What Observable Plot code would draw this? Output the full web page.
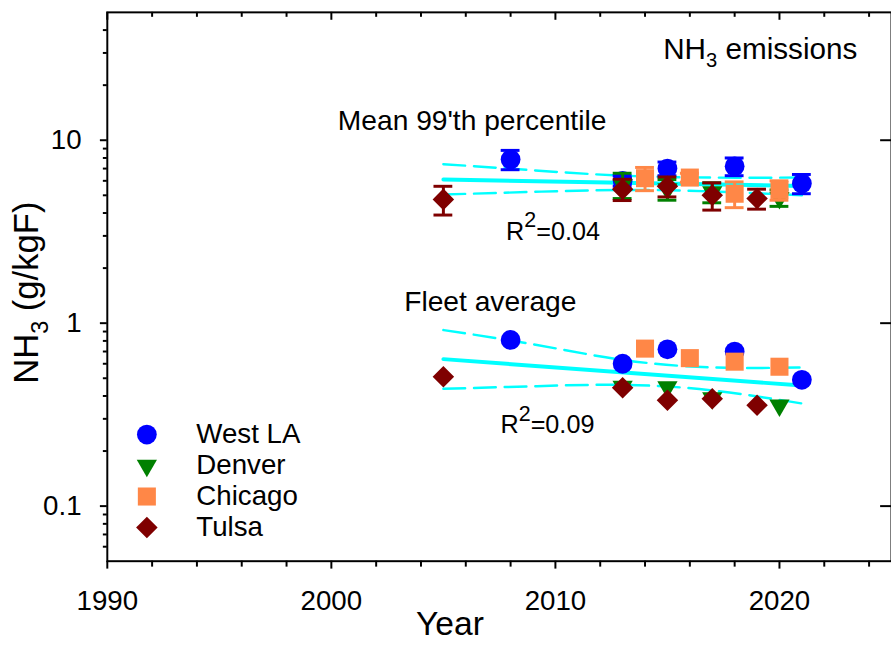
<!DOCTYPE html>
<html>
<head>
<meta charset="utf-8">
<script src="https://cdn.jsdelivr.net/npm/d3@7"></script>
<script src="https://cdn.jsdelivr.net/npm/@observablehq/plot@0.6"></script>
<style>
  html, body { margin: 0; padding: 0; background: white; overflow: hidden; }
  #chart svg { display: block; }
</style>
</head>
<body>
<div id="chart"></div>
<script>
/* Ciudades y colores */
const cities = ["West LA", "Denver", "Chicago", "Tulsa"];
const cityColors = ["#0000ff", "#008000", "#ff8747", "#7f0000"];

/* West LA */
const westLAYears = [2008, 2013, 2015, 2018, 2021];
const westLAFleet = [0.81, 0.60, 0.72, 0.70, 0.49];
const westLAP99 = [7.85, 6.0, 7.0, 7.2, 5.8];
const westLAP99Err = [0.95, 0.4, 0.6, 0.8, 0.7];

/* Denver */
const denverYears = [2013, 2015, 2017, 2020];
const denverFleet = [0.45, 0.447, 0.39, 0.356];
const denverP99 = [5.7, 5.4, 5.2, 4.85];
const denverP99Err = [0.9, 0.7, 0.65, 0.5];

/* Chicago */
const chicagoYears = [2014, 2016, 2018, 2020];
const chicagoFleet = [0.726, 0.644, 0.616, 0.578];
const chicagoP99 = [6.2, 6.25, 5.1, 5.35];
const chicagoP99Err = [0.9, 0.35, 0.82, 0.65];

/* Tulsa */
const tulsaYears = [2005, 2013, 2015, 2017, 2019];
const tulsaFleet = [0.51, 0.443, 0.379, 0.386, 0.356];
const tulsaP99 = [4.75, 5.4, 5.6, 5.0, 4.8];
const tulsaP99Err = [0.85, 0.72, 0.7, 0.85, 0.6];

/* Ajustes lineales y bandas de confianza */
const fitYears = [2005, 2021];
const bandYears = [2005, 2009, 2013, 2017, 2021];
const p99Fit = [6.1, 5.62];
const p99Upper = [7.4, 6.85, 6.4, 6.25, 6.25];
const p99Lower = [5.05, 5.22, 5.35, 5.25, 5.0];
const fleetFit = [0.636, 0.456];
const fleetUpper = [0.917, 0.767, 0.63, 0.573, 0.573];
const fleetLower = [0.438, 0.452, 0.46, 0.429, 0.364];

/* Ticks */
const xMajor = [1990, 2000, 2010, 2020];
const xMinor = [1992, 1994, 1996, 1998, 2002, 2004, 2006, 2008, 2012, 2014, 2016, 2018, 2022, 2024];
const yMajor = [0.1, 1, 10];
const yMinor = [0.06, 0.07, 0.08, 0.09, 0.2, 0.3, 0.4, 0.5, 0.6, 0.7, 0.8, 0.9, 2, 3, 4, 5, 6, 7, 8, 9, 20, 30, 40];

/* Armamos las filas por ciudad */
const cityYears = [westLAYears, denverYears, chicagoYears, tulsaYears];
const cityFleet = [westLAFleet, denverFleet, chicagoFleet, tulsaFleet];
const cityP99 = [westLAP99, denverP99, chicagoP99, tulsaP99];
const cityP99Err = [westLAP99Err, denverP99Err, chicagoP99Err, tulsaP99Err];
const rows = cities.map((city, i) => cityYears[i].map((year, j) => ({
  city, year, fleet: cityFleet[i][j], p99: cityP99[i][j], err: cityP99Err[i][j]
})));

/* Simbolos (triangulo hacia abajo a mano) */
const triangleDown = {
  draw(ctx, size) {
    const y = Math.sqrt(size / (3 * Math.sqrt(3)));
    ctx.moveTo(0, 2 * y);
    ctx.lineTo(-Math.sqrt(3) * y, -y);
    ctx.lineTo(Math.sqrt(3) * y, -y);
    ctx.closePath();
  }
};
const citySymbols = ["circle", triangleDown, "square", "diamond2"];
const cityRadius = [10, 7.6, 10.3, 9.8];

const W = 901, H = 648, mL = 108, mR = 0, mT = 12, mB = 81;
const plotW = W - mL - mR, plotH = H - mT - mB;
const cyan = "#00ffff";

const cityMarks = cities.flatMap((city, i) => {
  const data = rows[i];
  const color = cityColors[i];
  return [
    Plot.ruleX(data, {x: "year", y1: d => d.p99 - d.err, y2: d => d.p99 + d.err, stroke: color, strokeWidth: 3}),
    Plot.ruleY(data, {y: d => d.p99 - d.err, x1: d => d.year - 0.42, x2: d => d.year + 0.42, stroke: color, strokeWidth: 3}),
    Plot.ruleY(data, {y: d => d.p99 + d.err, x1: d => d.year - 0.42, x2: d => d.year + 0.42, stroke: color, strokeWidth: 3}),
    Plot.dot(data, {x: "year", y: "p99", symbol: citySymbols[i], r: cityRadius[i], fill: color}),
    Plot.dot(data, {x: "year", y: "fleet", symbol: citySymbols[i], r: cityRadius[i], fill: color})
  ];
});

/* Leyenda dentro del grafico */
const legendMarks = cities.flatMap((city, i) => [
  Plot.dot([city], {frameAnchor: "top-left", dx: 40, dy: 427 + i * 31.3, symbol: citySymbols[i], r: cityRadius[i], fill: cityColors[i]}),
  Plot.text([city], {text: d => d, frameAnchor: "top-left", dx: 90, dy: 427 + i * 31.3, textAnchor: "start", lineAnchor: "middle", fontSize: 28})
]);

const chart = Plot.plot({
  width: W,
  height: H,
  marginLeft: mL,
  marginRight: mR,
  marginTop: mT,
  marginBottom: mB,
  style: {fontFamily: "'Liberation Sans', Arial, sans-serif", fontSize: "28px", color: "black", background: "white"},
  x: {domain: [1990, 2025]},
  y: {type: "log", domain: [0.05, 50]},
  marks: [
    /* lineas de ajuste */
    Plot.line(fitYears, {x: d => d, y: (d, i) => p99Fit[i], stroke: cyan, strokeWidth: 4}),
    Plot.line(bandYears, {x: d => d, y: (d, i) => p99Upper[i], stroke: cyan, strokeWidth: 2.5, strokeDasharray: "22,9", curve: "natural"}),
    Plot.line(bandYears, {x: d => d, y: (d, i) => p99Lower[i], stroke: cyan, strokeWidth: 2.5, strokeDasharray: "22,9", curve: "natural"}),
    Plot.line(fitYears, {x: d => d, y: (d, i) => fleetFit[i], stroke: cyan, strokeWidth: 4}),
    Plot.line(bandYears, {x: d => d, y: (d, i) => fleetUpper[i], stroke: cyan, strokeWidth: 2.5, strokeDasharray: "22,9", curve: "natural"}),
    Plot.line(bandYears, {x: d => d, y: (d, i) => fleetLower[i], stroke: cyan, strokeWidth: 2.5, strokeDasharray: "22,9", curve: "natural"}),

    ...cityMarks,
    ...legendMarks,

    /* anotaciones */
    Plot.text(["Mean 99'th percentile"], {text: d => d, x: 2000.29, y: 12.73, textAnchor: "start", lineAnchor: "middle", fontSize: 28.5}),
    Plot.text(["Fleet average"], {text: d => d, x: 2003.25, y: 1.30, textAnchor: "start", lineAnchor: "middle", fontSize: 28.5}),
    Plot.text(["R^{2}=0.04"], {text: d => d, x: 2007.8, y: 3.17, textAnchor: "start", lineAnchor: "middle", fontSize: 25.5}),
    Plot.text(["R^{2}=0.09"], {text: d => d, x: 2007.55, y: 0.279, textAnchor: "start", lineAnchor: "middle", fontSize: 25.5}),
    Plot.text(["NH_{3} emissions"], {text: d => d, x: 2014.81, y: 31.3, textAnchor: "start", lineAnchor: "middle", fontSize: 30}),

    /* ejes */
    Plot.frame({stroke: "black", strokeWidth: 2}),
    Plot.axisX({anchor: "bottom", ticks: xMajor, tickSize: 8, tickPadding: 21, tickFormat: "d", fontSize: 28, strokeWidth: 2, label: null}),
    Plot.axisX({anchor: "bottom", ticks: xMinor, tickSize: 6, tickFormat: () => "", strokeWidth: 2, label: null}),
    Plot.ruleX(xMajor, {x: d => d, insetBottom: plotH - 8, strokeWidth: 2}),
    Plot.ruleX(xMinor, {x: d => d, insetBottom: plotH - 5, strokeWidth: 2}),
    Plot.axisY({anchor: "left", ticks: yMajor, tickSize: 7, tickPadding: 19, tickFormat: d => String(d), fontSize: 28, strokeWidth: 2, label: null}),
    Plot.axisY({anchor: "left", ticks: yMinor, tickSize: 4, tickFormat: () => "", strokeWidth: 2, label: null}),
    Plot.ruleY(yMajor, {y: d => d, insetLeft: plotW - 11, strokeWidth: 2}),

    /* titulos de ejes */
    Plot.text(["Year"], {text: d => d, frameAnchor: "bottom", dx: -50, dy: 64, lineAnchor: "middle", fontSize: 34}),
    Plot.text(["NH_{3} (g/kgF)"], {text: d => d, frameAnchor: "left", dx: -81, dy: 6, rotate: -90, lineAnchor: "middle", textAnchor: "middle", fontSize: 35})
  ]
});

document.getElementById("chart").appendChild(chart);

/* Subindices y superindices: NH_{3}, R^{2} */
d3.select(chart).selectAll("text").each(function () {
  const txt = this.textContent;
  if (!/[_^]\{/.test(txt)) return;
  const fs = parseFloat(getComputedStyle(this).fontSize);
  const parts = txt.split(/([_^]\{[^}]*\})/).filter(s => s);
  const el = d3.select(this).text(null);
  let shift = 0;
  parts.forEach(p => {
    const m = p.match(/^([_^])\{(.*)\}$/);
    if (m) {
      const isSub = m[1] === "_";
      const s = isSub ? 0.27 * fs : -0.48 * fs;
      el.append("tspan")
        .attr("font-size", (isSub ? 0.68 : 0.85) * fs)
        .attr("dy", s - shift)
        .text(m[2]);
      shift = s;
    } else {
      el.append("tspan").attr("dy", -shift).text(p);
      shift = 0;
    }
  });
});
</script>
</body>
</html>
